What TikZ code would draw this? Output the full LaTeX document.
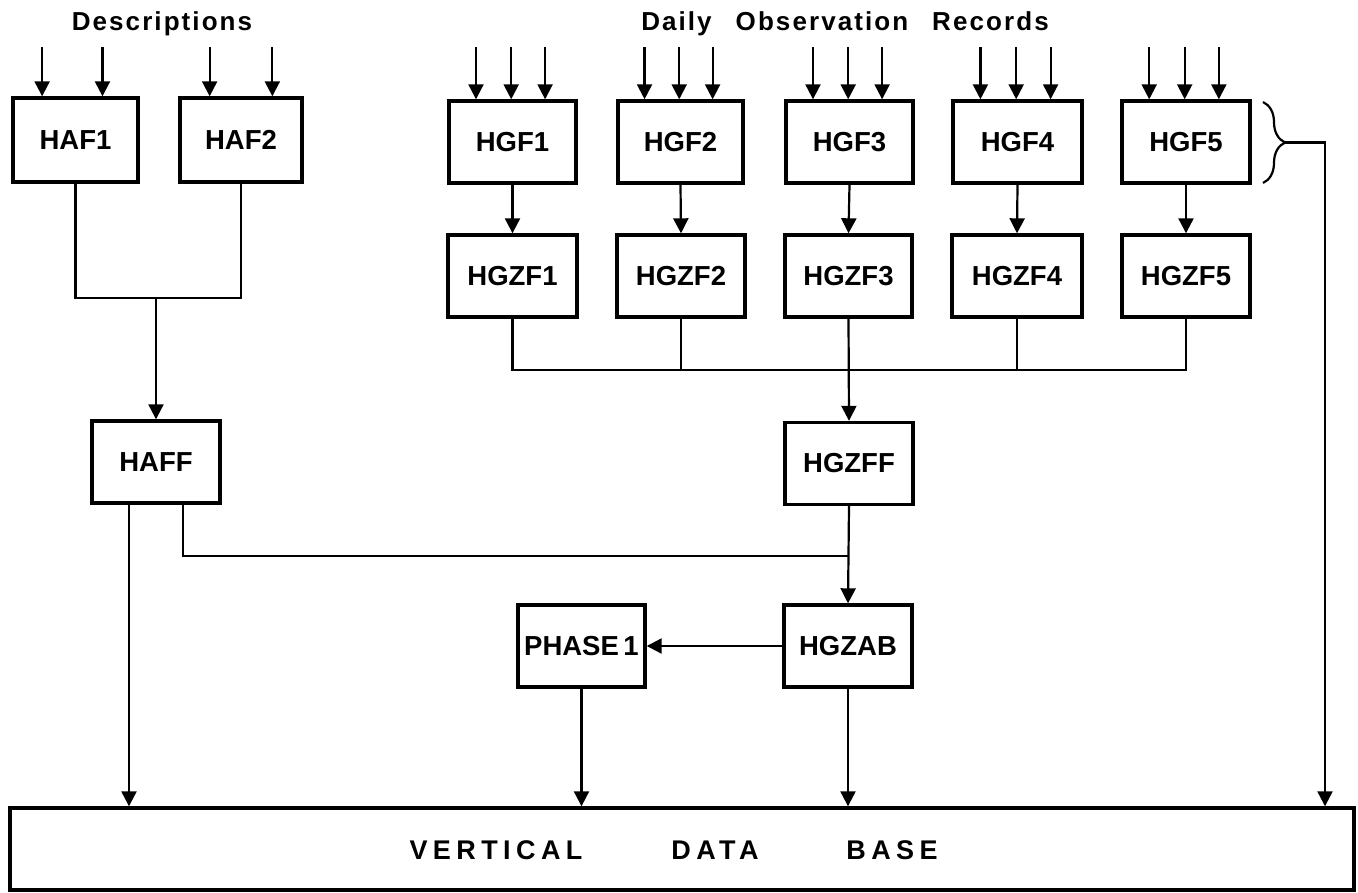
\documentclass[tikz,border=0pt]{standalone}
\usepackage{fontspec}
\setmainfont{Liberation Sans}
\usetikzlibrary{arrows.meta,calc,decorations.pathreplacing}
\tikzset{
  box/.style={draw, line width=3.4pt, inner sep=0pt, minimum height=82pt,
    font=\bfseries\fontsize{27.5}{30}\selectfont},
  conn/.style={line width=2.2pt},
  arr/.style={conn, -{Triangle[width=15pt,length=15pt]}},
  title/.style={font=\bfseries\fontsize{26}{28}\selectfont\addfontfeatures{LetterSpace=8}, inner sep=0pt},
  dbtext/.style={font=\bfseries\fontsize{27}{30}\selectfont\addfontfeatures{LetterSpace=20}, inner sep=0pt}
}
\begin{document}
\begin{tikzpicture}[x=1pt,y=-1pt]
\useasboundingbox (0,0) rectangle (1358,892);
% titles
\node[title] (tdesc) at (162,24) {Descriptions};
\node[title] (tdaily) at (845,24) {Daily\hspace{24pt}Observation\hspace{24pt}Records};
% top row
\node[box, minimum width=125pt, minimum height=84pt] (haf1) at (75.5,140) {HAF1};
\node[box, minimum width=122pt, minimum height=84pt] (haf2) at (241,140) {HAF2};
\node[box, minimum width=127pt] (hgf1) at (512.5,142) {HGF1};
\node[box, minimum width=125pt] (hgf2) at (680.5,142) {HGF2};
\node[box, minimum width=127pt] (hgf3) at (849.5,142) {HGF3};
\node[box, minimum width=129pt] (hgf4) at (1017.5,142) {HGF4};
\node[box, minimum width=128pt] (hgf5) at (1186,142) {HGF5};
% second row
\node[box, minimum width=129pt] (hgzf1) at (512.5,276) {HGZF1};
\node[box, minimum width=128pt] (hgzf2) at (681,276) {HGZF2};
\node[box, minimum width=127pt] (hgzf3) at (848.5,276) {HGZF3};
\node[box, minimum width=130pt] (hgzf4) at (1017,276) {HGZF4};
\node[box, minimum width=128pt] (hgzf5) at (1186,276) {HGZF5};
% lower boxes
\node[box, minimum width=128pt] (haff) at (156,462) {HAFF};
\node[box, minimum width=128pt] (hgzff) at (849,463.5) {HGZFF};
\node[box, minimum width=128pt] (hgzab) at (848,646) {HGZAB};
\node[box, minimum width=127pt] (phase1) at (581.5,646) {PHASE\,1};
% data base
\node[draw, line width=3.4pt, minimum width=1344pt, minimum height=82pt, inner sep=0pt] (vdb) at (682,849) {};
\node[dbtext] (vt1) at (496,850) {VERTICAL};
\node[dbtext] (vt2) at (715,850) {DATA};
\node[dbtext] (vt3) at (892,850) {BASE};
% input arrows
\coordinate (intop) at (0,47);
\foreach \b/\f/\i in {haf1/0.24/a, haf1/0.71/b, haf2/0.25/a, haf2/0.75/b} {
  \coordinate (\b-in-\i) at ($(\b.north west)!\f!(\b.north east)$);
  \draw[arr] (\b-in-\i |- intop) -- (\b-in-\i);
}
\foreach \b in {hgf1,hgf2,hgf3,hgf4,hgf5} {
  \foreach \f/\i in {0.22/a,0.49/b,0.75/c} {
    \coordinate (\b-in-\i) at ($(\b.north west)!\f!(\b.north east)$);
    \draw[arr] (\b-in-\i |- intop) -- (\b-in-\i);
  }
  }
% HAF merge
\coordinate (hafj) at (haff.north |- 0,298);
\draw[conn] (haf1.south) |- (hafj) -| (haf2.south);
\draw[arr] (hafj) -- (haff.north);
% HGF -> HGZF
\draw[arr] (hgf1.south) -- (hgzf1.north);
\draw[arr] (hgf2.south) -- (hgzf2.north);
\draw[arr] (hgf3.south) -- (hgzf3.north);
\draw[arr] (hgf4.south) -- (hgzf4.north);
\draw[arr] (hgf5.south) -- (hgzf5.north);
% bus
\coordinate (busy) at (0,370);
\draw[conn] (hgzf1.south) |- (hgzf5.south |- busy) -- (hgzf5.south);
\draw[conn] (hgzf2.south) -- (hgzf2.south |- busy);
\draw[conn] (hgzf4.south) -- (hgzf4.south |- busy);
\draw[arr] (hgzf3.south) -- (hgzff.north);
% HGZFF -> HGZAB, HAFF join
\coordinate (joiny) at (0,556);
\draw[arr] (hgzff.south) -- (hgzab.north);
\coordinate (haffR) at ($(haff.south)+(27,0)$);
\coordinate (haffL) at ($(haff.south)+(-27,0)$);
\draw[conn] (haffR) |- (hgzff.south |- joiny);
\draw[arr] (haffL) -- (haffL |- vdb.north);
% HGZAB -> PHASE 1
\draw[arr] (hgzab.west) -- (phase1.east);
\draw[arr] (phase1.south) -- (phase1.south |- vdb.north);
\draw[arr] (hgzab.south) -- (hgzab.south |- vdb.north);
% brace
\draw[conn, decorate, decoration={brace, amplitude=22pt, aspect=0.5}] (1263,102) -- (1263,183);
\coordinate (bt) at (1285,142.5);
\coordinate (bc) at (1325,142.5);
\draw[arr] (bt) -- (bc) -- (bc |- vdb.north);
\end{tikzpicture}
\end{document}
